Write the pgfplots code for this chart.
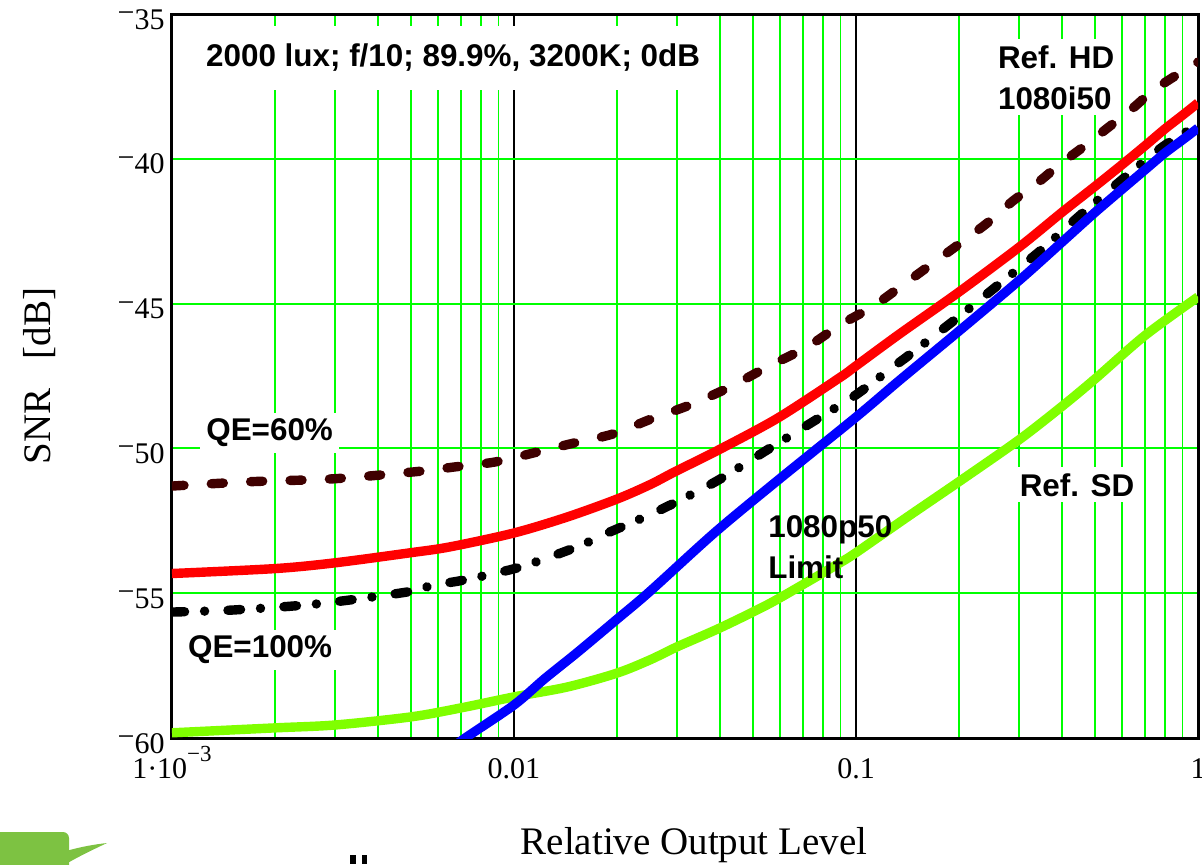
\documentclass[border=0pt]{standalone}
\usepackage{fontspec}
\setmainfont{Liberation Serif}
\newfontfamily\arialfont{Liberation Sans}
\usepackage{pgfplots}
\pgfplotsset{compat=1.18}
\definecolor{brownd}{HTML}{3F0000}
\definecolor{lgreen}{HTML}{80FF00}
\definecolor{gridg}{HTML}{00FF00}
\definecolor{logog}{HTML}{7DC242}
\newcommand{\ann}{\arialfont\bfseries\fontsize{15.7}{20.5}\selectfont}
\newcommand{\rmin}{\raisebox{0.22em}{−}}
\begin{document}
\begin{tikzpicture}
\begin{axis}[
  at={(86pt,63pt)}, anchor=south west,
  scale only axis, width=513pt, height=362pt,
  xmode=log, log basis x=10,
  xmin=0.001, xmax=1, ymin=-60, ymax=-35,
  xtick={0.001,0.01,0.1,1},
  minor xtick={0.002,0.003,0.004,0.005,0.006,0.007,0.008,0.009,0.02,0.03,0.04,0.05,0.06,0.07,0.08,0.09,0.2,0.3,0.4,0.5,0.6,0.7,0.8,0.9},
  xticklabels={{1·10\raisebox{0.55em}{\fontsize{11.5}{11.5}\selectfont −3}},0.01,0.1,1},
  ytick={-60,-55,-50,-45,-40,-35},
  minor ytick={},
  yticklabels={{\rmin60},{\rmin55},{\rmin50},{\rmin45},{\rmin40},{\rmin35}},
  xmajorgrids, xminorgrids, ymajorgrids,
  major grid style={gridg, line width=1pt},
  minor grid style={gridg, line width=0.75pt},
  major x grid style={black, line width=1pt},
  minor x grid style={gridg, line width=0.75pt},
  major y grid style={gridg, line width=1pt},
  major tick length=0pt, minor tick length=0pt,
  axis line style={line width=1.5pt},
  tick label style={font=\fontsize{15}{15}\selectfont, inner sep=0pt},
  xticklabel style={anchor=base, yshift=-20pt},
  yticklabel style={anchor=base east, xshift=-3.5pt, yshift=-7.5pt},
  xlabel={Relative Output Level},
  ylabel={SNR\ \ \ [dB]},
  label style={font=\fontsize{19.5}{19.5}\selectfont},
  xlabel style={at={(axis description cs:0.5088,-0.1478)}, anchor=center},
  ylabel style={at={(axis description cs:-0.1287,0.5)}, anchor=center},
]
\node[fill=white, inner xsep=8pt, inner ysep=9pt, font=\ann] at (axis cs:0.00664,-36.52) {2000 lux; f/10; 89.9\%, 3200K; 0dB};
\node[fill=white, inner sep=3pt, font=\ann, align=left] at (axis cs:0.385,-37.19) {Ref. HD\\1080i50};
\node[fill=white, inner sep=3pt, font=\ann] at (axis cs:0.00193,-49.47) {QE=60\%};
\node[fill=white, inner sep=3pt, font=\ann] at (axis cs:0.00181,-56.96) {QE=100\%};
\node[fill=white, inner sep=3pt, font=\ann] at (axis cs:0.443,-51.26) {Ref. SD};

\addplot[brownd, mark=none, smooth, line width=4.7pt, line cap=round, line join=round, dash pattern=on 6pt off 13.7pt] coordinates {
(0.001,-51.30) (0.00169,-51.15) (0.00296,-51.05) (0.0052,-50.80) (0.00671,-50.64) (0.00879,-50.47) (0.01137,-50.16) (0.0149,-49.82) (0.0195,-49.50) (0.025,-49.0) (0.0327,-48.50) (0.0428,-47.88) (0.055,-47.19) (0.0719,-46.50) (0.0898,-45.74) (0.112,-45.10) (0.1345,-44.43) (0.168,-43.60) (0.2,-42.95) (0.243,-42.20) (0.288,-41.45) (0.338,-40.85) (0.394,-40.20) (0.473,-39.50) (0.542,-38.95) (0.645,-38.25) (0.738,-37.65) (0.868,-37.10) (1,-36.66)
};
\addplot[red, mark=none, smooth, line width=4.7pt, line join=round] coordinates {
(0.001,-54.32) (0.002,-54.15) (0.003,-53.95) (0.005,-53.60) (0.0065,-53.40) (0.01,-52.92) (0.0143,-52.37) (0.02,-51.75) (0.025,-51.25) (0.0296,-50.80) (0.0397,-50.05) (0.0591,-48.95) (0.0898,-47.55) (0.1,-47.15) (0.134,-46.05) (0.2,-44.6) (0.3,-43.05) (0.4,-41.85) (0.5,-40.95) (0.6,-40.2) (0.7,-39.55) (0.8,-38.97) (0.9,-38.5) (1,-38.07)
};
\addplot[lgreen, mark=none, smooth, line width=4.7pt, line join=round] coordinates {
(0.001,-59.82) (0.002,-59.65) (0.003,-59.55) (0.005,-59.27) (0.007,-58.96) (0.01,-58.58) (0.0143,-58.24) (0.02,-57.76) (0.025,-57.3) (0.03,-56.85) (0.04,-56.2) (0.055,-55.4) (0.07,-54.7) (0.0898,-53.95) (0.1,-53.6) (0.14,-52.4) (0.2,-51.15) (0.3,-49.7) (0.4,-48.55) (0.5,-47.6) (0.7,-46.1) (1,-44.77)
};
\addplot[black, mark=none, smooth, line width=4.7pt, line cap=round, line join=round, dash pattern=on 6.3pt off 10pt on 0.01pt off 11.7pt] coordinates {
(0.001,-55.65) (0.00151,-55.58) (0.00265,-55.37) (0.00486,-54.96) (0.0058,-54.72) (0.0071,-54.55) (0.0104,-54.1) (0.0153,-53.4) (0.0182,-52.99) (0.0223,-52.54) (0.0267,-52.13) (0.0387,-51.16) (0.0568,-49.95) (0.0822,-48.78) (0.1,-48.15) (0.128,-47.2) (0.144,-46.75) (0.2,-45.45) (0.264,-44.3) (0.352,-43.1) (0.473,-41.75) (0.775,-39.65) (1,-38.85)
};
\addplot[blue, mark=none, smooth, line width=4.7pt, line join=round] coordinates {
(0.0065,-60.4) (0.0072,-60.0) (0.01,-58.86) (0.0123,-57.95) (0.0153,-57.05) (0.02,-55.9) (0.0249,-54.95) (0.0387,-52.9) (0.0591,-51.1) (0.1,-48.92) (0.134,-47.65) (0.2,-45.95) (0.3,-44.2) (0.4,-42.88) (0.5,-41.85) (0.6,-41.05) (0.7,-40.38) (0.8,-39.8) (0.9,-39.35) (1,-38.94)
};
\node[inner sep=2pt, font=\ann, align=left, anchor=west] at (axis cs:0.0538,-53.4) {1080p50\\Limit};
\end{axis}
% partial logo at the bottom edge
\fill[logog, rounded corners=3pt] (-6pt,-6pt) rectangle (34.5pt,16pt);
\fill[logog] (17pt,0pt) .. controls (27pt,5.5pt) and (40pt,9pt) .. (53.5pt,10.5pt) .. controls (45pt,6.5pt) and (37pt,2.5pt) .. (33pt,0pt) -- cycle;
\fill[black] (175pt,0pt) rectangle (178pt,4.5pt);
\fill[black] (181pt,0pt) rectangle (183.5pt,4.5pt);
\pgfresetboundingbox
\path (0pt,0pt) rectangle (601pt,432pt);
\end{tikzpicture}
\end{document}
